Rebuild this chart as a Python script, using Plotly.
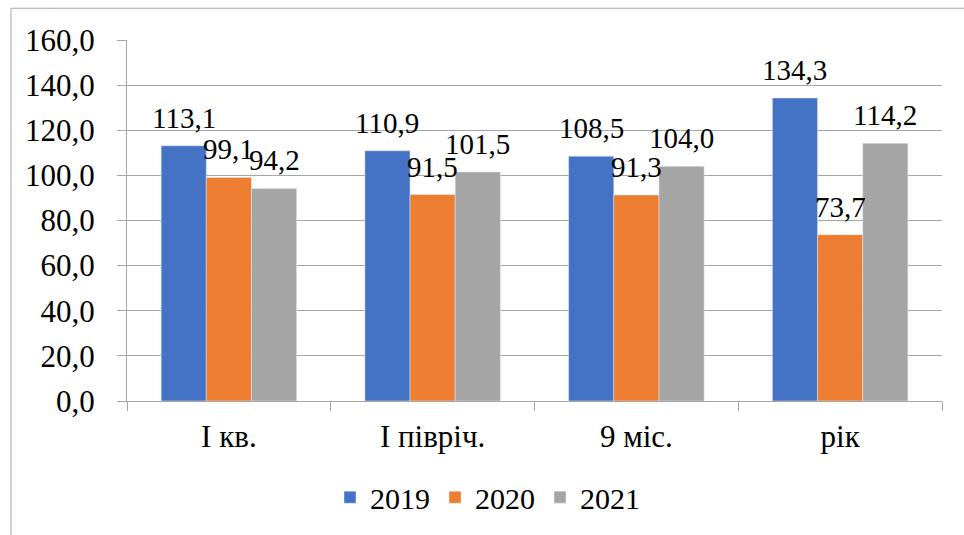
import plotly.graph_objects as go

categories = ["I кв.", "I півріч.", "9 міс.", "рік"]
values_2019 = [113.1, 110.9, 108.5, 134.3]
values_2020 = [99.1, 91.5, 91.3, 73.7]
values_2021 = [94.2, 101.5, 104.0, 114.2]
series_names = ["2019", "2020", "2021"]
series_colors = ["#4472C4", "#ED7D31", "#A5A5A5"]
y_ticks = [0, 20, 40, 60, 80, 100, 120, 140, 160]

FONT = "Liberation Serif"
AXIS_GRAY = "#A6A6A6"

W, H = 964, 535
plot_l, plot_r, plot_t, plot_b = 127, 942, 40, 404
pw = plot_r - plot_l
ph = plot_b - plot_t
BARGAP = 0.335

series = [values_2019, values_2020, values_2021]

fig = go.Figure()
for name, vals, color in zip(series_names, series, series_colors):
    fig.add_trace(go.Bar(name=name, x=categories, y=vals, marker_color=color))

# value labels above each bar, offset within each category group
cat_w = pw / len(categories)
bar_w = cat_w * (1 - BARGAP) / len(series)
for si, vals in enumerate(series):
    dx = (si - (len(series) - 1) / 2) * bar_w
    for cat, v in zip(categories, vals):
        fig.add_annotation(
            x=cat, y=v, xref="x", yref="y",
            text=f"{v:.1f}".replace(".", ","),
            showarrow=False, xshift=dx, yshift=10,
            xanchor="center", yanchor="bottom",
            font=dict(size=29, family=FONT, color="#000000"),
        )

fig.update_layout(
    width=W, height=H,
    barmode="group", bargap=BARGAP, bargroupgap=0,
    separators=", ",
    paper_bgcolor="#FFFFFF", plot_bgcolor="#FFFFFF",
    font=dict(family=FONT, size=31, color="#000000"),
    margin=dict(l=plot_l, r=W - plot_r, t=plot_t, b=H - plot_b),
    legend=dict(
        orientation="h",
        x=(330 - plot_l) / pw, xanchor="left",
        y=(plot_b - 501) / ph, yanchor="middle",
        font=dict(size=30, family=FONT, color="#000000"),
        itemwidth=30, traceorder="normal",
    ),
    xaxis=dict(showline=True, linecolor=AXIS_GRAY, ticks="outside",
               tickson="boundaries", ticklen=9, tickcolor=AXIS_GRAY,
               ticklabelstandoff=8),
    yaxis=dict(range=[0, 160], tickvals=y_ticks, tickformat=".1f",
               showline=True, linecolor=AXIS_GRAY, ticks="outside",
               ticklen=9, tickcolor=AXIS_GRAY, ticklabelstandoff=16,
               showgrid=True, gridcolor=AXIS_GRAY, zeroline=False),
)

# Outer chart frame (left and top edges visible)
fig.add_shape(
    type="rect", xref="paper", yref="paper",
    x0=(11 - plot_l) / pw, x1=(W + 20 - plot_l) / pw,
    y0=(plot_b - (H + 20)) / ph, y1=(plot_b - 8) / ph,
    line=dict(color=AXIS_GRAY, width=1), layer="below",
)

fig.write_html("out.html")
